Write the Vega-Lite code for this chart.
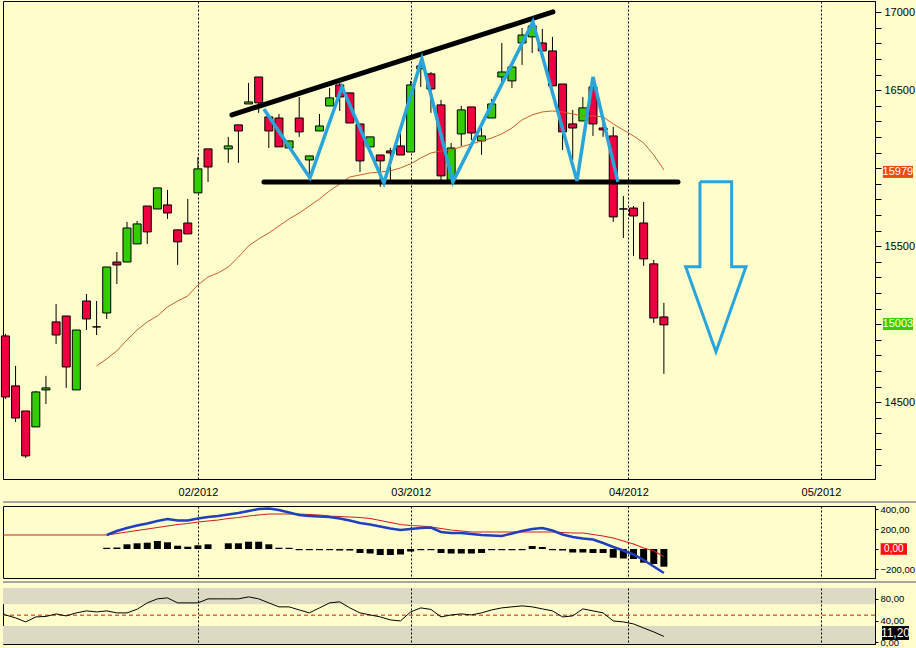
{
  "$schema": "https://vega.github.io/schema/vega-lite/v6.json",
  "background": "#fffdcc",
  "padding": {"left": 0, "top": 0, "right": 0, "bottom": 0},
  "bounds": "flush",
  "spacing": 27,
  "config": {
    "view": {"fill": "#fffdcc", "stroke": "#000000", "strokeWidth": 1},
    "scale": {"continuousPadding": 0},
    "axis": {"labelFont": "Liberation Sans", "labelFontSize": 11, "labelColor": "#000000", "tickColor": "#000000", "domainColor": "#000000", "tickCount": 100},
    "text": {"font": "Liberation Sans"}
  },
  "datasets": {
    "candles": [
      {"i":0,"o":14925,"h":14938,"l":14521,"c":14534,"d":"down"},
      {"i":1,"o":14605,"h":14733,"l":14374,"c":14399,"d":"down"},
      {"i":2,"o":14444,"h":14444,"l":14143,"c":14156,"d":"down"},
      {"i":3,"o":14342,"h":14572,"l":14342,"c":14566,"d":"up"},
      {"i":4,"o":14579,"h":14669,"l":14489,"c":14592,"d":"up"},
      {"i":5,"o":15015,"h":15130,"l":14874,"c":14931,"d":"down"},
      {"i":6,"o":15053,"h":15053,"l":14592,"c":14726,"d":"down"},
      {"i":7,"o":14579,"h":14963,"l":14579,"c":14963,"d":"up"},
      {"i":8,"o":15149,"h":15194,"l":14963,"c":15034,"d":"down"},
      {"i":9,"o":14983,"h":15149,"l":14931,"c":14983,"d":"doji"},
      {"i":10,"o":15072,"h":15367,"l":15034,"c":15367,"d":"up"},
      {"i":11,"o":15399,"h":15463,"l":15258,"c":15380,"d":"down"},
      {"i":12,"o":15399,"h":15656,"l":15399,"c":15617,"d":"up"},
      {"i":13,"o":15515,"h":15662,"l":15515,"c":15643,"d":"up"},
      {"i":14,"o":15758,"h":15758,"l":15515,"c":15592,"d":"down"},
      {"i":15,"o":15739,"h":15874,"l":15739,"c":15874,"d":"up"},
      {"i":16,"o":15765,"h":15861,"l":15675,"c":15713,"d":"down"},
      {"i":17,"o":15605,"h":15605,"l":15380,"c":15528,"d":"down"},
      {"i":18,"o":15649,"h":15803,"l":15579,"c":15579,"d":"down"},
      {"i":19,"o":15842,"h":16072,"l":15842,"c":15996,"d":"up"},
      {"i":20,"o":16124,"h":16124,"l":15912,"c":16008,"d":"down"},
      {"i":22,"o":16124,"h":16201,"l":16034,"c":16143,"d":"up"},
      {"i":23,"o":16278,"h":16278,"l":16034,"c":16239,"d":"down"},
      {"i":24,"o":16412,"h":16547,"l":16412,"c":16425,"d":"up"},
      {"i":25,"o":16585,"h":16585,"l":16355,"c":16419,"d":"down"},
      {"i":26,"o":16329,"h":16329,"l":16130,"c":16239,"d":"down"},
      {"i":27,"o":16322,"h":16348,"l":16137,"c":16137,"d":"down"},
      {"i":28,"o":16130,"h":16175,"l":16130,"c":16175,"d":"up"},
      {"i":29,"o":16322,"h":16457,"l":16201,"c":16233,"d":"down"},
      {"i":30,"o":16053,"h":16079,"l":15938,"c":16079,"d":"up"},
      {"i":31,"o":16239,"h":16348,"l":16239,"c":16271,"d":"up"},
      {"i":32,"o":16399,"h":16515,"l":16399,"c":16451,"d":"up"},
      {"i":33,"o":16534,"h":16553,"l":16367,"c":16457,"d":"down"},
      {"i":34,"o":16483,"h":16483,"l":16290,"c":16290,"d":"down"},
      {"i":35,"o":16284,"h":16284,"l":15976,"c":16047,"d":"down"},
      {"i":36,"o":16137,"h":16201,"l":16137,"c":16201,"d":"up"},
      {"i":37,"o":16085,"h":16085,"l":15880,"c":16047,"d":"down"},
      {"i":38,"o":16111,"h":16130,"l":15925,"c":16098,"d":"down"},
      {"i":39,"o":16143,"h":16278,"l":16085,"c":16085,"d":"down"},
      {"i":40,"o":16104,"h":16560,"l":16104,"c":16534,"d":"up"},
      {"i":41,"o":16637,"h":16675,"l":16521,"c":16656,"d":"up"},
      {"i":42,"o":16605,"h":16617,"l":16355,"c":16508,"d":"down"},
      {"i":43,"o":16406,"h":16438,"l":15925,"c":15951,"d":"down"},
      {"i":44,"o":15925,"h":16162,"l":15925,"c":16130,"d":"up"},
      {"i":45,"o":16220,"h":16399,"l":16143,"c":16374,"d":"up"},
      {"i":46,"o":16393,"h":16393,"l":16181,"c":16226,"d":"down"},
      {"i":47,"o":16175,"h":16290,"l":16085,"c":16207,"d":"up"},
      {"i":48,"o":16322,"h":16444,"l":16322,"c":16412,"d":"up"},
      {"i":49,"o":16585,"h":16803,"l":16553,"c":16617,"d":"up"},
      {"i":50,"o":16560,"h":16649,"l":16515,"c":16649,"d":"up"},
      {"i":51,"o":16803,"h":16899,"l":16662,"c":16854,"d":"up"},
      {"i":52,"o":16842,"h":16944,"l":16739,"c":16912,"d":"up"},
      {"i":53,"o":16803,"h":16893,"l":16752,"c":16752,"d":"down"},
      {"i":54,"o":16752,"h":16842,"l":16528,"c":16528,"d":"down"},
      {"i":55,"o":16540,"h":16540,"l":16117,"c":16233,"d":"down"},
      {"i":56,"o":16284,"h":16374,"l":16053,"c":16258,"d":"down"},
      {"i":57,"o":16303,"h":16457,"l":16303,"c":16387,"d":"up"},
      {"i":58,"o":16521,"h":16521,"l":16207,"c":16284,"d":"down"},
      {"i":59,"o":16258,"h":16322,"l":16201,"c":16246,"d":"down"},
      {"i":60,"o":16207,"h":16265,"l":15656,"c":15688,"d":"down"},
      {"i":61,"o":15739,"h":15822,"l":15553,"c":15739,"d":"doji"},
      {"i":62,"o":15745,"h":15758,"l":15438,"c":15694,"d":"down"},
      {"i":63,"o":15649,"h":15784,"l":15374,"c":15419,"d":"down"},
      {"i":64,"o":15387,"h":15412,"l":15008,"c":15040,"d":"down"},
      {"i":65,"o":15047,"h":15137,"l":14682,"c":14996,"d":"down"}
    ],
    "ma": [
      {"i":9,"v":14733},{"i":10,"v":14778},{"i":11,"v":14829},{"i":12,"v":14899},{"i":13,"v":14963},
      {"i":14,"v":15015},{"i":15,"v":15053},{"i":16,"v":15111},{"i":17,"v":15149},{"i":18,"v":15181},
      {"i":19,"v":15252},{"i":20,"v":15303},{"i":21,"v":15329},{"i":22,"v":15367},{"i":23,"v":15431},
      {"i":24,"v":15502},{"i":25,"v":15547},{"i":26,"v":15585},{"i":27,"v":15630},{"i":28,"v":15675},
      {"i":29,"v":15713},{"i":30,"v":15758},{"i":31,"v":15803},{"i":32,"v":15855},{"i":33,"v":15899},
      {"i":34,"v":15944},{"i":35,"v":15957},{"i":36,"v":15970},{"i":37,"v":15976},{"i":38,"v":15983},
      {"i":39,"v":16002},{"i":40,"v":16028},{"i":41,"v":16066},{"i":42,"v":16098},{"i":43,"v":16111},
      {"i":44,"v":16117},{"i":45,"v":16137},{"i":46,"v":16156},{"i":47,"v":16175},{"i":48,"v":16194},
      {"i":49,"v":16220},{"i":50,"v":16258},{"i":51,"v":16310},{"i":52,"v":16342},{"i":53,"v":16361},
      {"i":54,"v":16367},{"i":55,"v":16361},{"i":56,"v":16348},{"i":57,"v":16335},{"i":58,"v":16335},
      {"i":59,"v":16329},{"i":60,"v":16284},{"i":61,"v":16245},{"i":62,"v":16207},{"i":63,"v":16162},
      {"i":64,"v":16085},{"i":65,"v":15989}
    ],
    "upper": [{"i":22.36,"p":16342},{"i":54.05,"p":17002}],
    "support": [{"i":25.52,"p":15912},{"i":66.39,"p":15912}],
    "zig": [
      {"k":0,"i":25.52,"p":16380},{"k":1,"i":30.06,"p":15938},{"k":2,"i":33.22,"p":16521},
      {"k":3,"i":37.36,"p":15906},{"k":4,"i":41.11,"p":16701},{"k":5,"i":44.17,"p":15912},
      {"k":6,"i":52.07,"p":16938},{"k":7,"i":56.42,"p":15919},{"k":8,"i":58.0,"p":16585},
      {"k":9,"i":60.46,"p":15912}
    ],
    "arrow": [
      {"k":0,"i":68.56,"p":15914},{"k":1,"i":71.69,"p":15914},{"k":2,"i":71.69,"p":15369},
      {"k":3,"i":73.1,"p":15369},{"k":4,"i":70.14,"p":14824},{"k":5,"i":67.15,"p":15369},
      {"k":6,"i":68.56,"p":15369},{"k":7,"i":68.56,"p":15914}
    ],
    "macd": [
      {"i":-0.24,"s":140},
      {"i":10,"m":140,"s":140,"h":12},{"i":11,"m":180,"s":155,"h":15},{"i":12,"m":210,"s":170,"h":47},
      {"i":13,"m":235,"s":185,"h":57},{"i":14,"m":255,"s":200,"h":63},{"i":15,"m":280,"s":215,"h":80},
      {"i":16,"m":300,"s":230,"h":67},{"i":17,"m":285,"s":245,"h":33},{"i":18,"m":285,"s":255,"h":23},
      {"i":19,"m":305,"s":270,"h":37},{"i":20,"m":320,"s":280,"h":47},{"i":21,"m":330,"s":290},
      {"i":22,"m":345,"s":305,"h":57},{"i":23,"m":360,"s":315,"h":57},{"i":24,"m":380,"s":330,"h":73},
      {"i":25,"m":400,"s":340,"h":73},{"i":26,"m":405,"s":350,"h":47},{"i":27,"m":390,"s":350,"h":13},
      {"i":28,"m":365,"s":350,"h":12},{"i":29,"m":340,"s":350,"h":-12},{"i":30,"m":330,"s":345,"h":-12},
      {"i":31,"m":325,"s":340,"h":-12},{"i":32,"m":320,"s":330,"h":-12},{"i":33,"m":305,"s":325,"h":-15},
      {"i":34,"m":285,"s":320,"h":-15},{"i":35,"m":260,"s":315,"h":-40},{"i":36,"m":245,"s":305,"h":-45},
      {"i":37,"m":225,"s":285,"h":-60},{"i":38,"m":205,"s":265,"h":-60},{"i":39,"m":190,"s":245,"h":-55},
      {"i":40,"m":200,"s":235,"h":-25},{"i":41,"m":210,"s":230,"h":-12},{"i":42,"m":215,"s":220,"h":-12},
      {"i":43,"m":170,"s":205,"h":-40},{"i":44,"m":160,"s":190,"h":-45},{"i":45,"m":160,"s":180,"h":-45},
      {"i":46,"m":150,"s":170,"h":-45},{"i":47,"m":140,"s":170,"h":-40},{"i":48,"m":135,"s":170,"h":-12},
      {"i":49,"m":130,"s":170,"h":-12},{"i":50,"m":155,"s":170,"h":-12},{"i":51,"m":180,"s":170,"h":-12},
      {"i":52,"m":200,"s":170,"h":30},{"i":53,"m":210,"s":170,"h":20},{"i":54,"m":185,"s":170,"h":-12},
      {"i":55,"m":145,"s":165,"h":-15},{"i":56,"m":120,"s":160,"h":-35},{"i":57,"m":105,"s":160,"h":-35},
      {"i":58,"m":95,"s":145,"h":-40},{"i":59,"m":60,"s":130,"h":-40},{"i":60,"m":20,"s":110,"h":-87},
      {"i":61,"m":-15,"s":80,"h":-95},{"i":62,"m":-55,"s":50,"h":-100},{"i":63,"m":-110,"s":10,"h":-137},
      {"i":64,"m":-175,"s":-20,"h":-150},{"i":65,"m":-240,"s":-75,"h":-177}
    ],
    "rsi": [
      {"i":-0.24,"v":53.6},{"i":0,"v":50.5},{"i":1,"v":45},{"i":2,"v":37.6},{"i":3,"v":46.8},
      {"i":4,"v":47.7},{"i":5,"v":52.3},{"i":6,"v":48.7},{"i":7,"v":54.2},{"i":8,"v":57.9},
      {"i":9,"v":56},{"i":10,"v":57.9},{"i":11,"v":54.2},{"i":12,"v":54.2},{"i":13,"v":61},
      {"i":14,"v":72.6},{"i":15,"v":80},{"i":16,"v":81.8},{"i":17,"v":72.6},{"i":18,"v":72.6},
      {"i":19,"v":72.6},{"i":20,"v":80},{"i":21,"v":80},{"i":22,"v":80},{"i":23,"v":80},
      {"i":24,"v":83.7},{"i":25,"v":80},{"i":26,"v":72.6},{"i":27,"v":65.3},{"i":28,"v":65.3},
      {"i":29,"v":59.7},{"i":30,"v":54.2},{"i":31,"v":63.4},{"i":32,"v":72.6},{"i":33,"v":74.5},
      {"i":34,"v":63.4},{"i":35,"v":54.2},{"i":36,"v":50.5},{"i":37,"v":46.8},{"i":38,"v":41.3},
      {"i":39,"v":39.4},{"i":40,"v":56},{"i":41,"v":63.4},{"i":42,"v":60.6},{"i":43,"v":46.8},
      {"i":44,"v":50.5},{"i":45,"v":52.3},{"i":46,"v":50.5},{"i":47,"v":54.2},{"i":48,"v":59.7},
      {"i":49,"v":63.4},{"i":50,"v":65.3},{"i":51,"v":67.1},{"i":52,"v":65.3},{"i":53,"v":61.6},
      {"i":54,"v":57.9},{"i":55,"v":46.8},{"i":56,"v":48.7},{"i":57,"v":61.6},{"i":58,"v":57.9},
      {"i":59,"v":54.2},{"i":60,"v":39.4},{"i":61,"v":37.6},{"i":62,"v":33.9},{"i":63,"v":26.5},
      {"i":64,"v":19.2},{"i":65,"v":10.9}
    ],
    "bands": [{"a":70,"b":100},{"a":-3,"b":30}]
  },
  "vconcat": [
    {
      "width": 872,
      "height": 478,
      "layer": [
        {
          "data": {"name": "candles"},
          "mark": {"type": "rule", "color": "#000000", "strokeWidth": 1},
          "encoding": {
            "x": {"field": "i", "type": "quantitative", "title": null,
              "scale": {"domain": [-0.24, 85.84], "nice": false, "zero": false, "padding": 0},
              "axis": {"orient": "bottom", "title": null, "values": [19, 40, 61.5, 80.5],
                "grid": true, "gridColor": "#000000", "gridDash": [2, 2], "gridWidth": 1, "gridOpacity": 1,
                "ticks": false, "domain": false, "labelPadding": 7, "labelOverlap": false, "labelFlush": false,
                "labelExpr": "datum.value == 19 ? '02/2012' : datum.value == 40 ? '03/2012' : datum.value == 61.5 ? '04/2012' : '05/2012'"}},
            "y": {"field": "l", "type": "quantitative", "title": null,
              "scale": {"domain": [14008, 17072], "nice": false, "zero": false, "padding": 0},
              "axis": {"orient": "right", "title": null, "grid": false, "format": "d", "tickCount": 100,
                "values": [14100,14200,14300,14400,14500,14600,14700,14800,14900,15000,15100,15200,15300,15400,15500,15600,15700,15800,15900,16000,16100,16200,16300,16400,16500,16600,16700,16800,16900,17000],
                "labelExpr": "(datum.value % 500 == 0 && datum.value != 16000 && datum.value != 15000) ? datum.label : ''",
                "tickSize": 6, "labelPadding": 3, "labelOverlap": false, "labelFlush": false}},
            "y2": {"field": "h"}
          }
        },
        {
          "data": {"name": "candles"},
          "mark": {"type": "bar", "width": 8, "stroke": "#000000", "strokeWidth": 1},
          "encoding": {
            "x": {"field": "i", "type": "quantitative", "title": null},
            "y": {"field": "o", "type": "quantitative", "title": null},
            "y2": {"field": "c"},
            "color": {"field": "d", "type": "nominal", "legend": null,
              "scale": {"domain": ["up", "down", "doji"], "range": ["#33cc00", "#ee0040", "#000000"]}}
          }
        },
        {
          "data": {"name": "ma"},
          "mark": {"type": "line", "color": "#c8602a", "strokeWidth": 1},
          "encoding": {
            "x": {"field": "i", "type": "quantitative", "title": null},
            "y": {"field": "v", "type": "quantitative", "title": null}
          }
        },
        {
          "data": {"name": "support"},
          "mark": {"type": "line", "color": "#000000", "strokeWidth": 5, "strokeCap": "round"},
          "encoding": {
            "x": {"field": "i", "type": "quantitative", "title": null},
            "y": {"field": "p", "type": "quantitative", "title": null}
          }
        },
        {
          "data": {"name": "upper"},
          "mark": {"type": "line", "color": "#000000", "strokeWidth": 5, "strokeCap": "round"},
          "encoding": {
            "x": {"field": "i", "type": "quantitative", "title": null},
            "y": {"field": "p", "type": "quantitative", "title": null}
          }
        },
        {
          "data": {"name": "zig"},
          "mark": {"type": "line", "color": "#29a5dc", "strokeWidth": 3.5, "strokeJoin": "miter"},
          "encoding": {
            "x": {"field": "i", "type": "quantitative", "title": null},
            "y": {"field": "p", "type": "quantitative", "title": null},
            "order": {"field": "k", "type": "quantitative"}
          }
        },
        {
          "data": {"name": "arrow"},
          "mark": {"type": "line", "color": "#29a5dc", "strokeWidth": 3, "strokeJoin": "miter"},
          "encoding": {
            "x": {"field": "i", "type": "quantitative", "title": null},
            "y": {"field": "p", "type": "quantitative", "title": null},
            "order": {"field": "k", "type": "quantitative"}
          }
        },
        {
          "data": {"values": [{}]},
          "mark": {"type": "rect", "color": "#f04a10"},
          "encoding": {
            "x": {"datum": 86.62, "type": "quantitative", "title": null}, "x2": {"datum": 89.59},
            "y": {"datum": 16015, "type": "quantitative", "title": null}, "y2": {"datum": 15938}
          }
        },
        {
          "data": {"values": [{}]},
          "mark": {"type": "rect", "color": "#3ccc00"},
          "encoding": {
            "x": {"datum": 86.62, "type": "quantitative", "title": null}, "x2": {"datum": 89.59},
            "y": {"datum": 15040, "type": "quantitative", "title": null}, "y2": {"datum": 14963}
          }
        },
        {
          "data": {"values": [{"t": "15979", "v": 15977}, {"t": "15003", "v": 15001}]},
          "mark": {"type": "text", "color": "#ffffff", "fontSize": 11, "align": "center", "baseline": "middle"},
          "encoding": {
            "x": {"datum": 88.1, "type": "quantitative", "title": null},
            "y": {"field": "v", "type": "quantitative", "title": null},
            "text": {"field": "t"}
          }
        }
      ]
    },
    {
      "spacing": 10,
      "bounds": "flush",
      "vconcat": [
        {
          "width": 872,
          "height": 72,
          "layer": [
            {
              "data": {"values": [{}]},
              "mark": {"type": "rule", "color": "#a8a8a0", "strokeWidth": 2},
              "encoding": {
                "x": {"datum": -0.24, "type": "quantitative", "title": null,
                  "scale": {"domain": [-0.24, 85.84], "nice": false, "zero": false, "padding": 0},
                  "axis": {"orient": "bottom", "title": null, "values": [19, 40, 61.5, 80.5],
                    "grid": true, "gridColor": "#000000", "gridDash": [2, 2], "gridWidth": 1, "gridOpacity": 1,
                    "ticks": false, "domain": false, "labels": false}},
                "x2": {"datum": 89.9},
                "y": {"datum": 470, "type": "quantitative", "title": null,
                  "scale": {"domain": [-290, 430], "nice": false, "zero": false, "padding": 0},
                  "axis": {"orient": "right", "title": null, "grid": false, "values": [-200, 0, 200, 400], "tickCount": 100,
                    "labelExpr": "datum.value == 0 ? '' : replace(format(datum.value, '.2f'), '.', ',')",
                    "labelFontSize": 9.5, "tickSize": 3, "labelPadding": 2, "labelOverlap": false, "labelFlush": false}}
              }
            },
            {
              "data": {"name": "macd"},
              "mark": {"type": "bar", "width": 7, "color": "#000000"},
              "encoding": {
                "x": {"field": "i", "type": "quantitative", "title": null},
                "y": {"field": "h", "type": "quantitative", "title": null},
                "y2": {"datum": 0}
              }
            },
            {
              "data": {"name": "macd"},
              "mark": {"type": "line", "color": "#cc2020", "strokeWidth": 1.2},
              "encoding": {
                "x": {"field": "i", "type": "quantitative", "title": null},
                "y": {"field": "s", "type": "quantitative", "title": null}
              }
            },
            {
              "data": {"name": "macd"},
              "mark": {"type": "line", "color": "#1f3fbf", "strokeWidth": 2.5},
              "encoding": {
                "x": {"field": "i", "type": "quantitative", "title": null},
                "y": {"field": "m", "type": "quantitative", "title": null}
              }
            },
            {
              "data": {"values": [{}]},
              "mark": {"type": "rect", "color": "#ff1010"},
              "encoding": {
                "x": {"datum": 86.4, "type": "quantitative", "title": null}, "x2": {"datum": 89.0},
                "y": {"datum": 58, "type": "quantitative", "title": null}, "y2": {"datum": -58}
              }
            },
            {
              "data": {"values": [{"t": "0,00", "v": 0}]},
              "mark": {"type": "text", "color": "#ffffff", "fontSize": 10, "align": "center", "baseline": "middle"},
              "encoding": {
                "x": {"datum": 87.7, "type": "quantitative", "title": null},
                "y": {"field": "v", "type": "quantitative", "title": null},
                "text": {"field": "t"}
              }
            }
          ]
        },
        {
          "width": 872,
          "height": 56,
          "layer": [
            {
              "data": {"name": "bands"},
              "mark": {"type": "rect", "color": "#dddac4"},
              "encoding": {
                "x": {"datum": -0.24, "type": "quantitative", "title": null,
                  "scale": {"domain": [-0.24, 85.84], "nice": false, "zero": false, "padding": 0},
                  "axis": {"orient": "bottom", "title": null, "values": [19, 40, 61.5, 80.5], "zindex": 1,
                    "grid": true, "gridColor": "#000000", "gridDash": [2, 2], "gridWidth": 1, "gridOpacity": 1,
                    "ticks": false, "domain": false, "labels": false}},
                "x2": {"datum": 85.84},
                "y": {"field": "a", "type": "quantitative", "title": null,
                  "scale": {"domain": [-3, 100], "nice": false, "zero": false, "padding": 0},
                  "axis": {"orient": "right", "title": null, "grid": false, "values": [0, 40, 80], "tickCount": 100,
                    "labelExpr": "replace(format(datum.value, '.2f'), '.', ',')",
                    "labelFontSize": 9.5, "tickSize": 3, "labelPadding": 2, "labelOverlap": false, "labelFlush": false}},
                "y2": {"field": "b"}
              }
            },
            {
              "data": {"values": [{}]},
              "mark": {"type": "rule", "color": "#a8a8a0", "strokeWidth": 2},
              "encoding": {
                "x": {"datum": -0.24, "type": "quantitative", "title": null}, "x2": {"datum": 89.9},
                "y": {"datum": 111, "type": "quantitative", "title": null}
              }
            },
            {
              "data": {"values": [{"v": 50}]},
              "mark": {"type": "rule", "color": "#cc2200", "strokeWidth": 1, "strokeDash": [4, 3]},
              "encoding": {
                "y": {"field": "v", "type": "quantitative", "title": null}
              }
            },
            {
              "data": {"name": "rsi"},
              "mark": {"type": "line", "color": "#000000", "strokeWidth": 1},
              "encoding": {
                "x": {"field": "i", "type": "quantitative", "title": null},
                "y": {"field": "v", "type": "quantitative", "title": null}
              }
            },
            {
              "data": {"values": [{}]},
              "mark": {"type": "rect", "color": "#000000"},
              "encoding": {
                "x": {"datum": 86.53, "type": "quantitative", "title": null}, "x2": {"datum": 89.19},
                "y": {"datum": 30, "type": "quantitative", "title": null}, "y2": {"datum": 4.4}
              }
            },
            {
              "data": {"values": [{"t": "11,20", "v": 17}]},
              "mark": {"type": "text", "color": "#ffffff", "fontSize": 12, "align": "center", "baseline": "middle"},
              "encoding": {
                "x": {"datum": 87.86, "type": "quantitative", "title": null},
                "y": {"field": "v", "type": "quantitative", "title": null},
                "text": {"field": "t"}
              }
            }
          ]
        }
      ]
    }
  ]
}
